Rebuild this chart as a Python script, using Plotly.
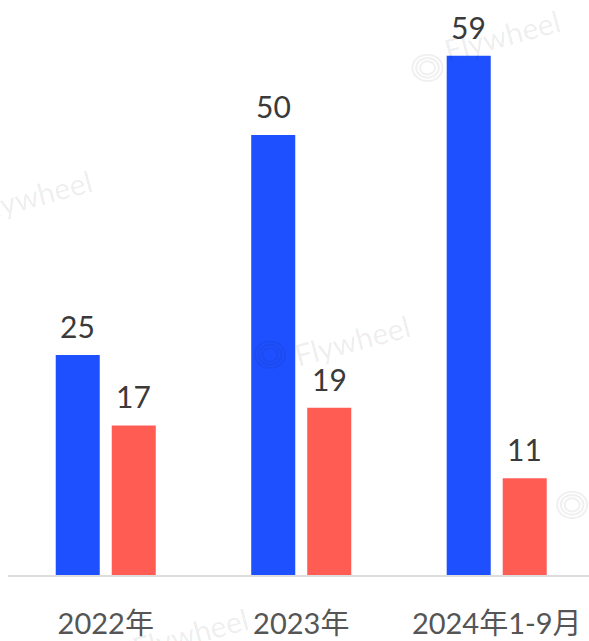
import plotly.graph_objects as go

# Category labels and the two series
categories = ["2022年", "2023年", "2024年1-9月"]
series_a = [25, 50, 59]
series_b = [17, 19, 11]

blue = "#1E50FF"
red = "#FF5C54"
font_family = "Lato, Noto Sans CJK SC, sans-serif"

x_pos = list(range(len(categories)))

def bar(values, color, group):
    return go.Bar(
        x=x_pos,
        y=values,
        marker=dict(color=color, line=dict(width=0)),
        offsetgroup=group,
        hoverinfo="skip",
    )

fig = go.Figure([bar(series_a, blue, "a"), bar(series_b, red, "b")])

# value labels above each bar (shifted left/right onto their bar in the group)
for values, shift in ((series_a, -28), (series_b, 28)):
    for xi, v in zip(x_pos, values):
        fig.add_annotation(
            x=xi, y=v, text=str(v), showarrow=False,
            xshift=shift, yshift=29, xanchor="center", yanchor="middle",
            font=dict(family=font_family, size=30, color="#3a3a3a"),
        )

# faint "Flywheel" watermarks
wm_color = "rgba(0,0,0,0.08)"
marks = [(0.045, 0.66), (0.592, 0.409), (0.85, 0.939), (0.313, -0.1)]
for mx, my in marks:
    fig.add_annotation(
        x=mx, y=my, xref="paper", yref="paper", text="Flywheel",
        showarrow=False, textangle=-15, xanchor="center", yanchor="middle",
        font=dict(family="Lato, sans-serif", size=30, color=wm_color),
    )

# faint ring logos next to the watermarks (paper coords)
rings = [(0.451, 0.383, 0.026, 0.023), (0.722, 0.882, 0.026, 0.023), (0.971, 0.122, 0.026, 0.023)]
for cx, cy, rx, ry in rings:
    for k in (1.0, 0.75, 0.5):
        fig.add_shape(
            type="circle", xref="paper", yref="paper",
            x0=cx - rx * k, x1=cx + rx * k, y0=cy - ry * k, y1=cy + ry * k,
            line=dict(color="rgba(0,0,0,0.06)", width=2),
        )

fig.update_layout(
    width=589,
    height=641,
    margin=dict(l=8, r=0, t=0, b=66),
    paper_bgcolor="white",
    plot_bgcolor="white",
    showlegend=False,
    barmode="group",
    bargap=0.427,
    bargroupgap=0.214,
    xaxis=dict(
        range=[-0.5, 2.472],
        tickmode="array",
        tickvals=x_pos,
        ticktext=categories,
        showgrid=False,
        zeroline=False,
        showline=True,
        linecolor="#dddddd",
        linewidth=2,
        ticks="outside",
        ticklen=22,
        tickcolor="rgba(0,0,0,0)",
        automargin=False,
        tickfont=dict(family=font_family, size=29, color="#555555"),
    ),
    yaxis=dict(
        range=[0, 65.34],
        visible=False,
        showgrid=False,
        zeroline=False,
        automargin=False,
    ),
)

fig.write_html("out.html")
